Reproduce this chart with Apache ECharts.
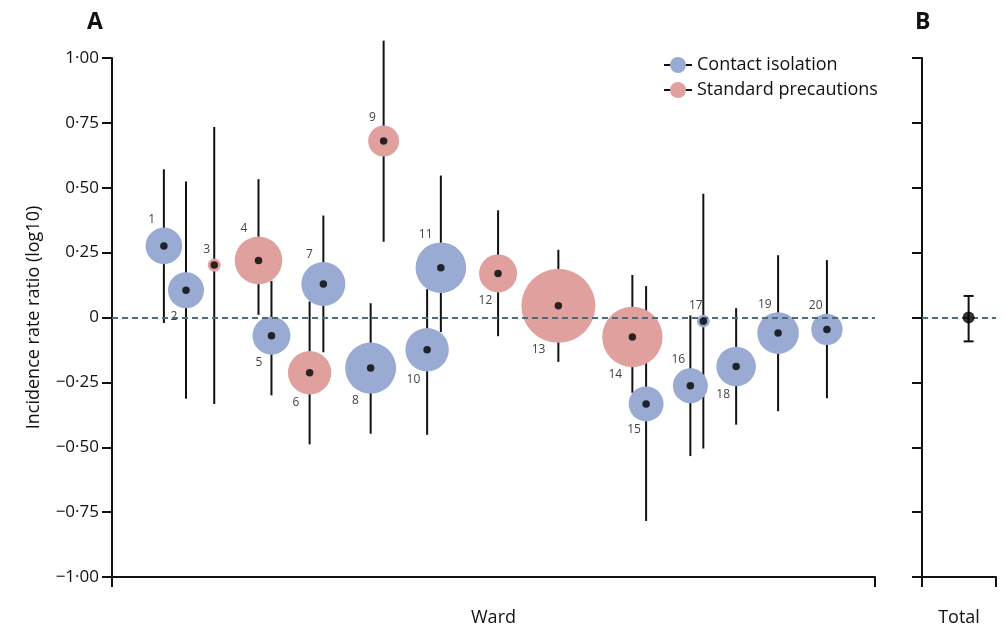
<!DOCTYPE html>
<html><head><meta charset="utf-8">
<script src="https://cdn.jsdelivr.net/npm/echarts@6/dist/echarts.min.js"></script>
<style>html,body{margin:0;padding:0;background:#fff}#c{width:1006px;height:632px}</style>
</head><body><div id="c"></div>
<script>
// ---- data ----
const wards = ['1','2','3','4','5','6','7','8','9','10','11','12','13','14','15','16','17','18','19','20'];
const wardGroup = ['C','C','S','S','C','S','C','C','S','C','C','S','S','S','C','C','C','C','C','C'];
const wardPos = [6.8, 9.7, 13.4, 19.2, 20.9, 25.9, 27.7, 33.9, 35.6, 41.3, 43.1, 50.6, 58.5, 68.2, 70.0, 75.8, 77.5, 81.8, 87.3, 93.7];
const irr    = [0.276, 0.105, 0.202, 0.220, -0.070, -0.213, 0.129, -0.195, 0.680, -0.124, 0.192, 0.170, 0.045, -0.075, -0.333, -0.263, -0.014, -0.189, -0.060, -0.046];
const ciLow  = [-0.021, -0.313, -0.333, 0.010, -0.300, -0.489, -0.134, -0.448, 0.292, -0.452, -0.056, -0.072, -0.171, -0.290, -0.784, -0.534, -0.505, -0.413, -0.361, -0.311];
const ciHigh = [0.571, 0.524, 0.734, 0.533, 0.141, 0.062, 0.393, 0.055, 1.067, 0.109, 0.547, 0.413, 0.261, 0.164, 0.121, 0.008, 0.477, 0.036, 0.240, 0.221];
const wardWeight = [335, 324, 42, 566, 361, 471, 484, 650, 240, 471, 640, 361, 1369, 912, 306, 306, 40, 392, 433, 246];
const totalPos = [0.63];
const totalIrr = [0.0];
const totalLow = [-0.092];
const totalHigh = [0.083];
const yTickLabels = ['\u22121\u00b700','\u22120\u00b775','\u22120\u00b750','\u22120\u00b725','0','0\u00b725','0\u00b750','0\u00b775','1\u00b700'];
const groupNames = {C:'Contact isolation', S:'Standard precautions'};

// ---- layout / style (not data) ----
const labelSide = ['up','down','up','up','down','down','up','down','up','down','up','down','down','down','down','up','up','down','up','up'];
const FONT = 'Open Sans';
const INK = '#111';
const colors = {C:'#9aabd3', S:'#e0a19e'};

const chart = echarts.init(document.getElementById('c'), null, {renderer:'canvas'});

function circleData(g){
  const out = [];
  wards.forEach((w,i)=>{
    if (wardGroup[i] !== g) return;
    const r = Math.sqrt(wardWeight[i]);
    const dx = -(0.4*r + 5);
    const dy = (labelSide[i]==='up' ? -1 : 1) * (0.9*r + 10);
    out.push({name:w, value:[wardPos[i], irr[i], wardWeight[i]], label:{offset:[dx,dy]}});
  });
  return out;
}

const yAxisCommon = {
  type:'value', min:-1, max:1, interval:0.25,
  axisLine:{show:true, onZero:false, lineStyle:{color:INK, width:2}},
  axisTick:{show:true, inside:false, length:10, lineStyle:{color:INK, width:2}},
  splitLine:{show:false}
};
const xAxisCommon = {
  type:'value',
  axisLine:{show:true, onZero:false, lineStyle:{color:INK, width:2}},
  axisTick:{show:true, inside:false, length:10, lineStyle:{color:INK, width:2}},
  axisLabel:{show:false},
  splitLine:{show:false},
  nameLocation:'middle', nameGap:32,
  nameTextStyle:{fontFamily:FONT, fontSize:18, color:INK}
};

const errRender = function(params, api){
  const x = api.value(0), lo = api.value(1), hi = api.value(2);
  const a = api.coord([x, lo]), b = api.coord([x, hi]);
  return {type:'line', shape:{x1:a[0], y1:a[1], x2:b[0], y2:b[1]}, style:{stroke:INK, lineWidth:2}};
};
const totalRender = function(params, api){
  const x = api.value(0), lo = api.value(1), hi = api.value(2);
  const a = api.coord([x, lo]), b = api.coord([x, hi]);
  const cap = 5;
  return {type:'group', children:[
    {type:'line', shape:{x1:a[0], y1:a[1], x2:b[0], y2:b[1]}, style:{stroke:INK, lineWidth:2}},
    {type:'line', shape:{x1:a[0]-cap, y1:a[1], x2:a[0]+cap, y2:a[1]}, style:{stroke:INK, lineWidth:2}},
    {type:'line', shape:{x1:b[0]-cap, y1:b[1], x2:b[0]+cap, y2:b[1]}, style:{stroke:INK, lineWidth:2}}
  ]};
};

const zeroLine = {
  silent:true, symbol:['none','none'], label:{show:false},
  lineStyle:{color:'#4d6b78', type:[6,4], width:2},
  data:[{yAxis:0}]
};

const option = {
  backgroundColor:'#fff',
  animation:false,
  title:[
    {text:'A', left:82, top:6, textStyle:{fontFamily:FONT, fontSize:23, fontWeight:'bold', color:INK}},
    {text:'B', left:910, top:6, textStyle:{fontFamily:FONT, fontSize:23, fontWeight:'bold', color:INK}}
  ],
  legend:[
    {left:659, top:50, orient:'vertical', itemWidth:28, itemHeight:2, itemGap:5, icon:'rect', selectedMode:false,
     data:[{name:groupNames.C, itemStyle:{color:INK}},{name:groupNames.S, itemStyle:{color:INK}}],
     textStyle:{fontFamily:FONT, fontSize:18, color:INK, lineHeight:20}},
    {left:665, top:50, orient:'vertical', itemWidth:16, itemHeight:16, itemGap:5, icon:'circle', selectedMode:false,
     data:[{name:groupNames.C, itemStyle:{color:colors.C}},{name:groupNames.S, itemStyle:{color:colors.S}}],
     formatter:()=>' ',
     textStyle:{fontFamily:FONT, fontSize:18, color:INK, lineHeight:20}}
  ],
  grid:[
    {left:112, right:131, top:58, bottom:51},
    {left:922, right:10, top:58, bottom:51}
  ],
  xAxis:[
    Object.assign({}, xAxisCommon, {gridIndex:0, min:0, max:100, interval:100, name:'Ward'}),
    Object.assign({}, xAxisCommon, {gridIndex:1, min:0, max:1, interval:1, name:'Total'})
  ],
  yAxis:[
    Object.assign({}, yAxisCommon, {gridIndex:0, name:'Incidence rate ratio (log10)', nameLocation:'middle', nameGap:69,
      nameTextStyle:{fontFamily:FONT, fontSize:18, color:INK},
      axisLabel:{show:true, margin:13, fontFamily:FONT, fontSize:17, color:INK,
        formatter:(v)=> yTickLabels[Math.round((v+1)/0.25)]}}),
    Object.assign({}, yAxisCommon, {gridIndex:1, axisLabel:{show:false}})
  ],
  series:[
    {type:'custom', name:'ci', xAxisIndex:0, yAxisIndex:0, z:2, renderItem:errRender, clip:false,
     data: wards.map((w,i)=>[wardPos[i], ciLow[i], ciHigh[i]])},
    ...['C','S'].map(g=>({
      type:'scatter', name:groupNames[g], xAxisIndex:0, yAxisIndex:0, z:3, clip:false,
      symbol:'circle', symbolSize:(v)=>2*Math.sqrt(v[2]),
      itemStyle:{color:colors[g], opacity:1},
      label:{show:true, position:'inside', formatter:'{b}', fontFamily:FONT, fontSize:12, color:'#444'},
      emphasis:{disabled:true},
      data: circleData(g)
    })),
    {type:'scatter', name:'dots', xAxisIndex:0, yAxisIndex:0, z:5, symbolSize:7.5, clip:false,
     itemStyle:{color:'#000'}, emphasis:{disabled:true},
     data: wards.map((w,i)=>[wardPos[i], irr[i]]),
     markLine: zeroLine},
    {type:'custom', name:'totalci', xAxisIndex:1, yAxisIndex:1, z:4, renderItem:totalRender, clip:false,
     data: totalPos.map((p,i)=>[p, totalLow[i], totalHigh[i]])},
    {type:'scatter', name:'total', xAxisIndex:1, yAxisIndex:1, z:5, symbolSize:12, clip:false,
     itemStyle:{color:'#000'}, emphasis:{disabled:true},
     data: totalPos.map((p,i)=>[p, totalIrr[i]]),
     markLine: zeroLine}
  ]
};
chart.setOption(option);
</script>
</body></html>
